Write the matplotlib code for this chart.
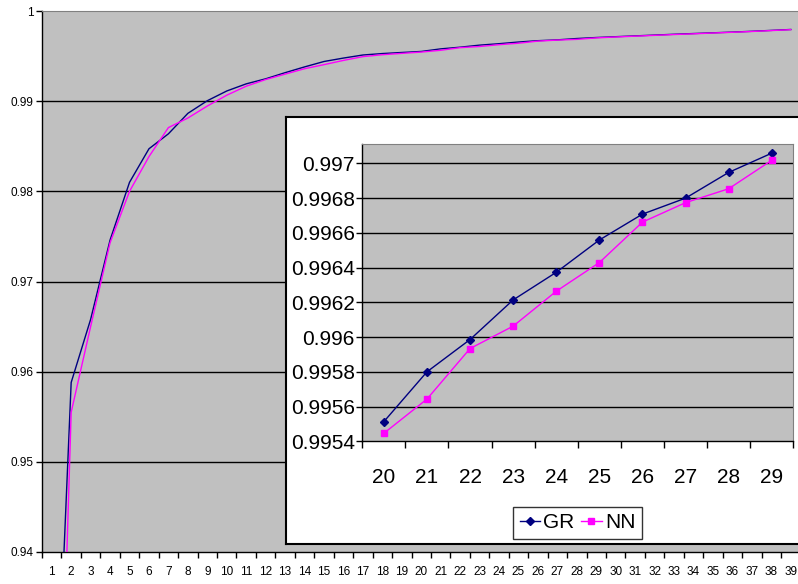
import numpy as np
import matplotlib
matplotlib.use("Agg")
import matplotlib.pyplot as plt
from matplotlib.ticker import FixedLocator, NullFormatter

plt.rcParams['font.family'] = ['Liberation Sans Narrow', 'Liberation Sans', 'DejaVu Sans']

# ---- data ----
categories = list(range(1, 40))
gr = [0.908, 0.9588, 0.9658, 0.9746, 0.9810, 0.98472, 0.98638, 0.98865, 0.99005, 0.99113,
      0.99192, 0.99248, 0.99316, 0.9938, 0.99440, 0.99478, 0.99512, 0.99528, 0.99540,
      0.995513, 0.9958, 0.995986, 0.996214, 0.996373, 0.996559, 0.996708, 0.9968, 0.996948, 0.997059,
      0.99715, 0.99724, 0.99733, 0.99742, 0.99750, 0.99758, 0.99766, 0.99775, 0.99785, 0.99795]
nn = [0.885, 0.9555, 0.9650, 0.9743, 0.9800, 0.98385, 0.98707, 0.98813, 0.98946, 0.99066,
      0.99166, 0.99240, 0.99300, 0.99360, 0.99405, 0.99452, 0.99494, 0.99515, 0.99530,
      0.995446, 0.995643, 0.995934, 0.996063, 0.996264, 0.996429, 0.996662, 0.996774, 0.996854, 0.997018,
      0.99712, 0.99721, 0.99730, 0.99739, 0.99747, 0.99756, 0.99764, 0.99773, 0.99783, 0.99793]
main_yticks = [0.94, 0.95, 0.96, 0.97, 0.98, 0.99, 1.0]
main_ylabels = ['0.94', '0.95', '0.96', '0.97', '0.98', '0.99', '1']
inset_first, inset_last = 20, 29
inset_yticks = [0.9954, 0.9956, 0.9958, 0.996, 0.9962, 0.9964, 0.9966, 0.9968, 0.997]
inset_ylabels = ['0.9954', '0.9956', '0.9958', '0.996', '0.9962', '0.9964', '0.9966', '0.9968', '0.997']
series_names = ['GR', 'NN']

GR_C = '#000080'
NN_C = '#FF00FF'
BG = '#C0C0C0'

W, H = 798, 584
fig = plt.figure(figsize=(W / 100, H / 100), dpi=100)

def fx(px):
    return px / W

def fy(py):
    return 1 - py / H

# ---- main axes ----
L, R, T, B = 42, 800.5, 11, 552
ax = fig.add_axes([fx(L), fy(B), fx(R - L), (B - T) / H])
ax.set_facecolor(BG)
x = np.array(categories)
ax.plot(x, gr, color=GR_C, lw=1.0, zorder=3)
ax.plot(x, nn, color=NN_C, lw=1.0, zorder=3)
ax.set_xlim(0.5, len(categories) + 0.5)
ax.set_ylim(0.94, 1.0)
ax.set_yticks(main_yticks)
ax.set_yticklabels(main_ylabels)
for yv in main_yticks[1:-1]:
    ax.axhline(yv, color='black', lw=1.0, zorder=1)
ax.set_xticks(x)
ax.set_xticklabels([str(c) for c in categories])
ax.xaxis.set_minor_locator(FixedLocator(np.arange(0.5, len(categories) + 1, 1.0)))
ax.xaxis.set_minor_formatter(NullFormatter())
ax.tick_params(axis='x', which='major', length=0, pad=10, labelsize=8.5)
ax.tick_params(axis='x', which='minor', length=4.5, width=1, color='black')
ax.tick_params(axis='y', which='major', length=4, width=1, pad=2, labelsize=8.5)
for s in ['left', 'bottom']:
    ax.spines[s].set_color('black')
    ax.spines[s].set_linewidth(1.0)
ax.spines['top'].set_color('#808080')
ax.spines['right'].set_color('#808080')

# ---- inset frame ----
FL, FR, FT, FB = 286, 812, 117, 544
frame = fig.add_axes([fx(FL), fy(FB), fx(FR - FL), (FB - FT) / H])
frame.set_facecolor('white')
frame.set_xticks([])
frame.set_yticks([])
for s in frame.spines.values():
    s.set_color('black')
    s.set_linewidth(1.5)

# ---- inset axes ----
IL, IR, IT, IB = 362.3, 793.3, 144.3, 441.3
ax2 = fig.add_axes([fx(IL), fy(IB), fx(IR - IL), (IB - IT) / H])
ax2.set_facecolor(BG)
i0 = categories.index(inset_first)
i1 = categories.index(inset_last) + 1
xi = x[i0:i1]
l1, = ax2.plot(xi, gr[i0:i1], color=GR_C, lw=1.0, marker='D', ms=4, mfc=GR_C, mec=GR_C, zorder=3)
l2, = ax2.plot(xi, nn[i0:i1], color=NN_C, lw=1.0, marker='s', ms=4.5, mfc=NN_C, mec=NN_C, zorder=3)
ax2.set_xlim(inset_first - 0.5, inset_last + 0.5)
ax2.set_ylim(0.9954, 0.99711)
ax2.set_yticks(inset_yticks)
ax2.set_yticklabels(inset_ylabels)
for yv in inset_yticks[1:]:
    ax2.axhline(yv, color='black', lw=1.0, zorder=1)
ax2.set_xticks(xi)
ax2.set_xticklabels([str(c) for c in xi])
ax2.xaxis.set_minor_locator(FixedLocator(np.arange(inset_first - 0.5, inset_last + 1, 1.0)))
ax2.xaxis.set_minor_formatter(NullFormatter())
ax2.tick_params(axis='x', which='major', length=0, pad=19, labelsize=15)
ax2.tick_params(axis='x', which='minor', length=5, width=1, color='black')
ax2.tick_params(axis='y', which='major', length=4.5, width=1, pad=1, labelsize=15)
for s in ['left', 'bottom']:
    ax2.spines[s].set_color('black')
    ax2.spines[s].set_linewidth(1.0)
ax2.spines['top'].set_color('#808080')
ax2.spines['right'].set_color('#808080')

leg = fig.legend([l1, l2], series_names, loc='center', bbox_to_anchor=(fx(577.5), fy(523)),
                 ncol=2, frameon=True, fancybox=False, fontsize=15, handlelength=1.0,
                 handletextpad=0.15, columnspacing=0.3, borderpad=0.3, borderaxespad=0)
leg.get_frame().set_edgecolor('black')
leg.get_frame().set_linewidth(1.0)

fig.savefig('out.png', dpi=100)
